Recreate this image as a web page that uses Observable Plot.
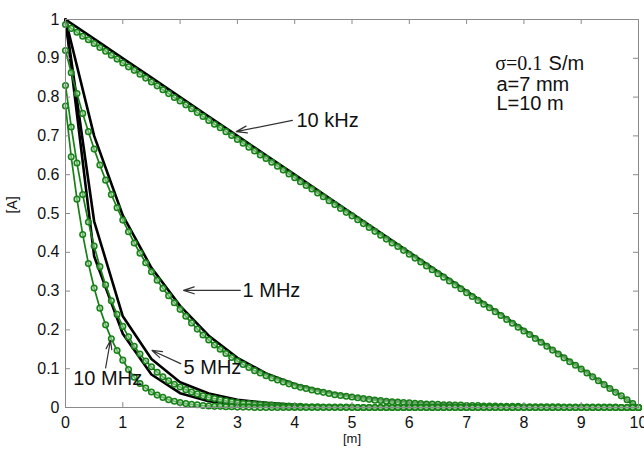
<!DOCTYPE html>
<html>
<head>
<meta charset="utf-8">
<script src="https://cdn.jsdelivr.net/npm/d3@7"></script>
<script src="https://cdn.jsdelivr.net/npm/@observablehq/plot@0.6"></script>
<style>
  html, body { margin: 0; padding: 0; background: #fff; }
</style>
</head>
<body>
<div id="chart"></div>
<script>
// ---- data ----
// sample positions along the line [m]
const xFine = d3.range(0, 101).map(k => k / 10);      // green curves (markers every 0.1 m)
const xCoarse = d3.range(0, 21).map(k => k / 2);      // black curves (vertices every 0.5 m)

const green10k = [0.987,0.977,0.967,0.957,0.948,0.938,0.928,0.918,0.908,0.898,0.888,0.878,0.869,0.859,0.849,0.839,0.829,0.819,0.809,0.799,
0.790,0.780,0.770,0.760,0.750,0.740,0.730,0.721,0.711,0.701,0.691,0.681,0.671,0.661,0.651,0.642,0.632,0.622,0.612,0.602,
0.592,0.582,0.572,0.563,0.553,0.543,0.533,0.523,0.513,0.503,0.494,0.484,0.474,0.464,0.454,0.444,0.434,0.424,0.415,0.405,
0.395,0.385,0.375,0.365,0.355,0.345,0.336,0.326,0.316,0.306,0.296,0.286,0.276,0.266,0.257,0.247,0.237,0.227,0.217,0.207,
0.197,0.188,0.178,0.168,0.158,0.148,0.138,0.128,0.118,0.109,0.099,0.089,0.079,0.069,0.059,0.049,0.039,0.030,0.020,0.010,0.000];

const green1M = [0.920,0.863,0.809,0.758,0.711,0.666,0.625,0.586,0.549,0.515,0.483,0.453,0.424,0.398,0.373,0.350,0.328,0.307,0.288,0.270,
0.253,0.235,0.218,0.202,0.187,0.174,0.161,0.150,0.139,0.129,0.120,0.111,0.103,0.095,0.089,0.082,0.076,0.071,0.066,0.061,
0.056,0.052,0.049,0.045,0.042,0.039,0.036,0.033,0.031,0.029,0.027,0.025,0.023,0.021,0.019,0.018,0.016,0.015,0.014,0.013,
0.012,0.011,0.010,0.009,0.009,0.008,0.007,0.007,0.006,0.006,0.005,0.005,0.005,0.004,0.004,0.004,0.003,0.003,0.003,0.003,
0.002,0.002,0.002,0.002,0.002,0.002,0.002,0.001,0.001,0.001,0.001,0.001,0.001,0.001,0.001,0.001,0.001,0.000,0.000,0.000,0.000];

const green5M = [0.830,0.723,0.630,0.549,0.478,0.416,0.363,0.316,0.275,0.240,0.209,0.182,0.158,0.138,0.120,0.105,0.091,0.079,0.069,0.060,
0.053,0.046,0.040,0.035,0.030,0.026,0.023,0.020,0.017,0.015,0.013,0.011,0.010,0.009,0.008,0.007,0.006,0.005,0.004,0.004,
0.003,0.003,0.002,0.002,0.002,0.001,0.001,0.001,0.001,0.001,0.001,0,0,0,0,0,0,0,0,0,
0,0,0,0,0,0,0,0,0,0,0,0,0,0,0,0,0,0,0,0,
0,0,0,0,0,0,0,0,0,0,0,0,0,0,0,0,0,0,0,0,0];

const green10M = [0.777,0.646,0.537,0.446,0.371,0.308,0.256,0.213,0.177,0.147,0.122,0.098,0.078,0.062,0.050,0.040,0.032,0.026,0.020,0.016,
0.013,0.010,0.008,0.007,0.005,0.004,0.003,0.003,0.002,0.002,0.001,0.001,0.001,0,0,0,0,0,0,0,
0,0,0,0,0,0,0,0,0,0,0,0,0,0,0,0,0,0,0,0,
0,0,0,0,0,0,0,0,0,0,0,0,0,0,0,0,0,0,0,0,
0,0,0,0,0,0,0,0,0,0,0,0,0,0,0,0,0,0,0,0,0];

const black10k = [1,0.95,0.9,0.85,0.8,0.75,0.7,0.65,0.6,0.55,0.5,0.45,0.4,0.35,0.3,0.25,0.2,0.15,0.1,0.05,0];
const black1M  = [1,0.70,0.495,0.36,0.262,0.185,0.128,0.088,0.06,0.041,0.028,0.019,0.013,0.009,0.006,0.004,0.003,0.002,0.001,0.0005,0];
const black5M  = [1,0.48,0.235,0.125,0.065,0.036,0.02,0.012,0.007,0.004,0.002,0.001,0.001,0,0,0,0,0,0,0,0];
const black10M = [1,0.39,0.19,0.085,0.037,0.016,0.007,0.003,0.001,0,0,0,0,0,0,0,0,0,0,0,0];

const xTicks = [0,1,2,3,4,5,6,7,8,9,10];
const yTicks = [0,0.1,0.2,0.3,0.4,0.5,0.6,0.7,0.8,0.9,1];

// annotation arrows: label, text position, arrow tail (x1,y1) and tip (x2,y2)
const annotations = [
  {label: "10 kHz", tx: 4.03, ty: 0.740, x1: 3.96, y1: 0.740, x2: 2.98, y2: 0.711},
  {label: "1 MHz",  tx: 3.09, ty: 0.302, x1: 3.05, y1: 0.302, x2: 2.06, y2: 0.302},
  {label: "5 MHz",  tx: 2.06, ty: 0.104, x1: 2.01, y1: 0.113, x2: 1.51, y2: 0.147},
  {label: "10 MHz", tx: 0.135, ty: 0.075, x1: 0.70, y1: 0.102, x2: 0.785, y2: 0.173}
];
const paramLines = [
  {text: "a=7 mm", x: 7.52, y: 0.817},
  {text: "L=10 m", x: 7.52, y: 0.7655}
];

// ---- build tables ----
const zip = (xs, ys) => ys.map((v, i) => ({x: xs[i], y: v}));
const greens = [green10k, green1M, green5M, green10M].map(a => zip(xFine, a));
const blacks = [black10k, black1M, black5M, black10M].map(a => zip(xCoarse, a));

const GREEN = "#178017";
const AXIS = "#8a8a8a";
const SANS = "'Liberation Sans', Arial, Helvetica, sans-serif";
const SERIF = "'Liberation Serif', 'Times New Roman', serif";

const W = 644, H = 449, mL = 65, mR = 6, mT = 19, mB = 42;
const fw = W - mL - mR, fh = H - mT - mB, tk = 5;

const marks = [];
// black (model) lines
blacks.forEach(d => marks.push(Plot.line(d, {x: "x", y: "y", stroke: "#000", strokeWidth: 2.6})));
// green (marker) curves
greens.forEach(d => {
  marks.push(Plot.line(d, {x: "x", y: "y", stroke: GREEN, strokeWidth: 1.7}));
  marks.push(Plot.dot(d, {x: "x", y: "y", r: 2.8, stroke: GREEN, strokeWidth: 1.5, fill: "#a8d8a8", fillOpacity: 0.6}));
});
// frame and inward ticks
marks.push(Plot.frame({stroke: AXIS, strokeWidth: 1}));
marks.push(Plot.tickX(xTicks, {x: d => d, stroke: AXIS, insetTop: fh - tk}));
marks.push(Plot.tickX(xTicks, {x: d => d, stroke: AXIS, insetBottom: fh - tk}));
marks.push(Plot.tickY(yTicks, {y: d => d, stroke: AXIS, insetRight: fw - tk}));
marks.push(Plot.tickY(yTicks, {y: d => d, stroke: AXIS, insetLeft: fw - tk}));
marks.push(Plot.axisX(xTicks, {tickSize: 0, tickPadding: 9, label: null, tickFormat: d => String(d), fontSize: 16, fill: "#111"}));
marks.push(Plot.axisY(yTicks, {tickSize: 0, tickPadding: 6, label: null, tickFormat: d => String(d), fontSize: 16, fill: "#111"}));
// axis titles
marks.push(Plot.text(["[m]"], {frameAnchor: "bottom", dy: 35.5, fontSize: 13, fill: "#111", fontFamily: SANS}));
marks.push(Plot.text(["[A]"], {frameAnchor: "left", dx: -53, rotate: -90, fontSize: 14, fill: "#111", fontFamily: SANS}));
// arrows and labels
marks.push(Plot.arrow(annotations, {x1: "x1", y1: "y1", x2: "x2", y2: "y2", stroke: "#333", strokeWidth: 1.2, headLength: 14, headAngle: 36}));
marks.push(Plot.text(annotations, {x: "tx", y: "ty", text: "label", textAnchor: "start", fontSize: 20, fill: "#111", fontFamily: SANS}));
// parameter box
marks.push(Plot.text(["σ=0.1"], {x: () => 7.50, y: () => 0.8686, textAnchor: "start", lineAnchor: "bottom", fontSize: 20, fill: "#111", fontFamily: SERIF}));
marks.push(Plot.text(["S/m"], {x: () => 8.43, y: () => 0.8686, textAnchor: "start", lineAnchor: "bottom", fontSize: 20, fill: "#111", fontFamily: SANS}));
marks.push(Plot.text(paramLines, {x: "x", y: "y", text: "text", textAnchor: "start", lineAnchor: "bottom", fontSize: 20, fill: "#111", fontFamily: SANS}));

const chart = Plot.plot({
  width: W, height: H,
  marginLeft: mL, marginRight: mR, marginTop: mT, marginBottom: mB,
  x: {domain: [0, 10]},
  y: {domain: [0, 1]},
  style: {fontFamily: SANS, fontSize: "16px", background: "#fff", overflow: "hidden"},
  marks
});
document.getElementById("chart").appendChild(chart);
</script>
</body>
</html>
